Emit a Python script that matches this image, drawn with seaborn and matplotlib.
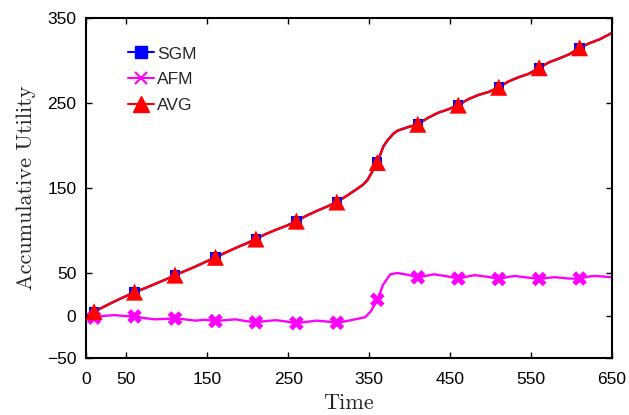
import pandas as pd
import seaborn as sns
import matplotlib.pyplot as plt
from matplotlib.lines import Line2D

# Curvas (tempo, utilidade acumulada)
t_sgm = [2, 10, 22.5, 35, 47.5, 60, 72.5, 85, 97.5, 110, 122.5, 135, 147.5, 160,
         172.5, 185, 197.5, 210, 222.5, 235, 247.5, 260, 272.5, 285, 297.5, 310,
         322.5, 335, 342.5, 347.5, 353, 360, 367.5, 372.5, 380, 385, 397.5, 410,
         422.5, 435, 447.5, 460, 472.5, 485, 497.5, 510, 522.5, 535, 547.5, 560,
         572.5, 585, 597.5, 610, 622.5, 635, 650]
u_sgm = [1, 4.5, 10.5, 16.5, 22, 27.5, 32, 37, 42, 47.5, 52.5, 57.5, 63, 68.5,
         74, 79.5, 84.5, 90, 96, 101, 105.5, 111, 117.5, 123, 128, 133.5,
         141, 149, 154, 159, 168, 180, 199, 206, 214, 217.5, 221.5, 225,
         232.5, 238.5, 242.5, 247.5, 254.5, 259.5, 263, 268.5, 275.5, 280.5, 284.5, 291.5,
         298, 302.5, 307.5, 315, 320.5, 325, 332.5]
u_avg = u_sgm

t_afm = [1, 10, 22, 35, 47, 60, 72, 85, 97, 110, 122, 135, 147, 160, 172, 185, 197,
         210, 222, 235, 247, 260, 272, 285, 297, 310, 322, 335, 345, 352, 360, 367,
         376, 385, 397, 410, 422, 430, 447, 460, 472, 480, 497, 510, 522, 530, 547,
         560, 572, 580, 597, 610, 622, 630, 650]
u_afm = [-4, -2.5, -0.5, 0.5, -0.5, -1, -3, -4.5, -4, -3.5, -4.5, -6, -5, -6.5, -5.5,
         -4.5, -6.5, -8, -6.5, -5.5, -7, -9, -7.5, -6, -7, -8.5, -6.5, -4, -2, 5, 18.5,
         36, 48.5, 50, 48, 45, 47, 48.5, 46, 43.5, 46, 47.5, 45.5, 43, 45.5, 46.5, 44.5,
         43, 44.5, 45, 43.5, 43.5, 46, 46.5, 45]

# Instantes onde os marcadores aparecem
t_marcas = [10, 60, 110, 160, 210, 260, 310, 360, 410, 460, 510, 560, 610]

x_ticks = [0, 50, 150, 250, 350, 450, 550, 650]
y_ticks = [-50, 0, 50, 150, 250, 350]

sgm = pd.DataFrame({'Time': t_sgm, 'Utility': u_sgm})
afm = pd.DataFrame({'Time': t_afm, 'Utility': u_afm})
avg = pd.DataFrame({'Time': t_sgm, 'Utility': u_avg})

sns.set_style("ticks")
plt.rcParams['font.family'] = ['Liberation Sans', 'DejaVu Sans']

fig, ax = plt.subplots(figsize=(6.29, 4.15), dpi=100)
fig.subplots_adjust(left=0.1367, right=0.973, bottom=0.1373, top=0.9566)

series = [
    (sgm, 'SGM', (0, 0, 1), dict(marker='s', s=55, edgecolor='none')),
    (afm, 'AFM', (1, 0, 1), dict(marker='X', s=110, edgecolor='none')),
    (avg, 'AVG', (1, 0, 0), dict(marker='^', s=150, edgecolor='none')),
]
for df, nome, cor, mk in series:
    sns.lineplot(data=df, x='Time', y='Utility', color=cor, linewidth=1.7, ax=ax)
    marcas = df[df['Time'].isin(t_marcas)]
    sns.scatterplot(data=marcas, x='Time', y='Utility', color=cor, ax=ax, zorder=3, **mk)

ax.set_xlim(0, 650)
ax.set_ylim(-50, 350)
ax.set_xticks(x_ticks)
ax.set_yticks(y_ticks)
ax.tick_params(direction='in', length=4, width=1, top=True, right=True,
               labelsize=12.5, colors='black')
ax.tick_params(axis='x', pad=10)
ax.tick_params(axis='y', pad=7)
for s in ax.spines.values():
    s.set_linewidth(1.5)
    s.set_color('black')

ax.set_xlabel('Time', fontfamily='cmr10', fontsize=16, labelpad=5)
ax.set_ylabel('Accumulative Utility', fontfamily='cmr10', fontsize=16, labelpad=8)

handles = [
    Line2D([], [], color=(0, 0, 1), lw=1.5, marker='s', markersize=9),
    Line2D([], [], color=(1, 0, 1), lw=1.5, marker='x', markersize=8, markeredgewidth=1.5),
    Line2D([], [], color=(1, 0, 0), lw=1.5, marker='^', markersize=12),
]
ax.legend(handles, ['SGM', 'AFM', 'AVG'], loc='upper left', bbox_to_anchor=(0.063, 0.942),
          frameon=False, fontsize=12.5, borderpad=0, handlelength=1.5,
          handletextpad=0.2, labelspacing=0.6)

plt.savefig('out.png', dpi=100)
